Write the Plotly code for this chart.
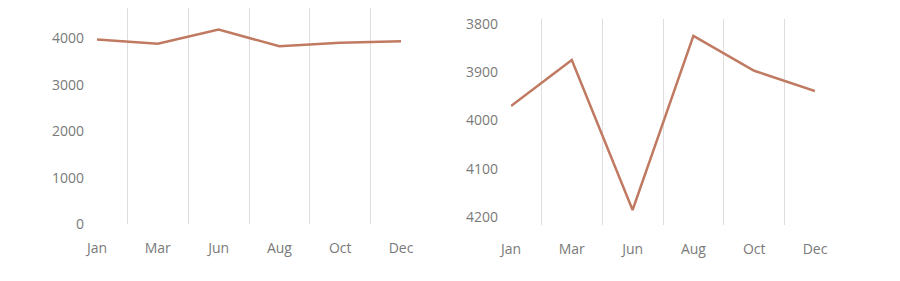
import plotly.graph_objects as go

months = ["Jan", "Mar", "Jun", "Aug", "Oct", "Dec"]
values_left = [3975, 3885, 4190, 3830, 3905, 3940]
values_right = [3970, 3875, 4185, 3825, 3897, 3939]
y_ticks_left = [0, 1000, 2000, 3000, 4000]
y_ticks_right = [3800, 3900, 4000, 4100, 4200]

line_color = "#c07a62"
text_color = "#7a7a7a"
grid_color = "#dedede"
font_family = "Open Sans, Noto Sans, sans-serif"

fig = go.Figure()
fig.add_trace(go.Scatter(x=months, y=values_left, mode="lines",
                         line=dict(color=line_color, width=2.5),
                         xaxis="x", yaxis="y", showlegend=False, hoverinfo="skip"))
fig.add_trace(go.Scatter(x=months, y=values_right, mode="lines",
                         line=dict(color=line_color, width=2.5),
                         xaxis="x2", yaxis="y2", showlegend=False, hoverinfo="skip"))

xcommon = dict(type="category", range=[0, 5], tickson="boundaries", showgrid=True,
               gridcolor=grid_color, gridwidth=1, zeroline=False, showline=False,
               ticks="", ticklabelstandoff=14, automargin=False,
               tickfont=dict(color=text_color, size=14, family=font_family))
ycommon = dict(showgrid=False, zeroline=False, showline=False, ticks="",
               ticklabelstandoff=12, automargin=False,
               tickfont=dict(color=text_color, size=14, family=font_family))

W, H = 900, 281
fig.update_layout(
    width=W, height=H,
    margin=dict(l=0, r=0, t=0, b=0, pad=0),
    paper_bgcolor="white", plot_bgcolor="white",
    xaxis=dict(domain=[97/W, 401/W], anchor="y", **xcommon),
    yaxis=dict(domain=[(H-224)/H, (H-8)/H], anchor="x",
               range=[0, 4655], tickvals=y_ticks_left, **ycommon),
    xaxis2=dict(domain=[511/W, 815/W], anchor="y2", **xcommon),
    yaxis2=dict(domain=[(H-224.5)/H, (H-19)/H], anchor="x2",
                range=[4215, 3790], tickvals=y_ticks_right, **ycommon),
)

fig.write_html("out.html")
